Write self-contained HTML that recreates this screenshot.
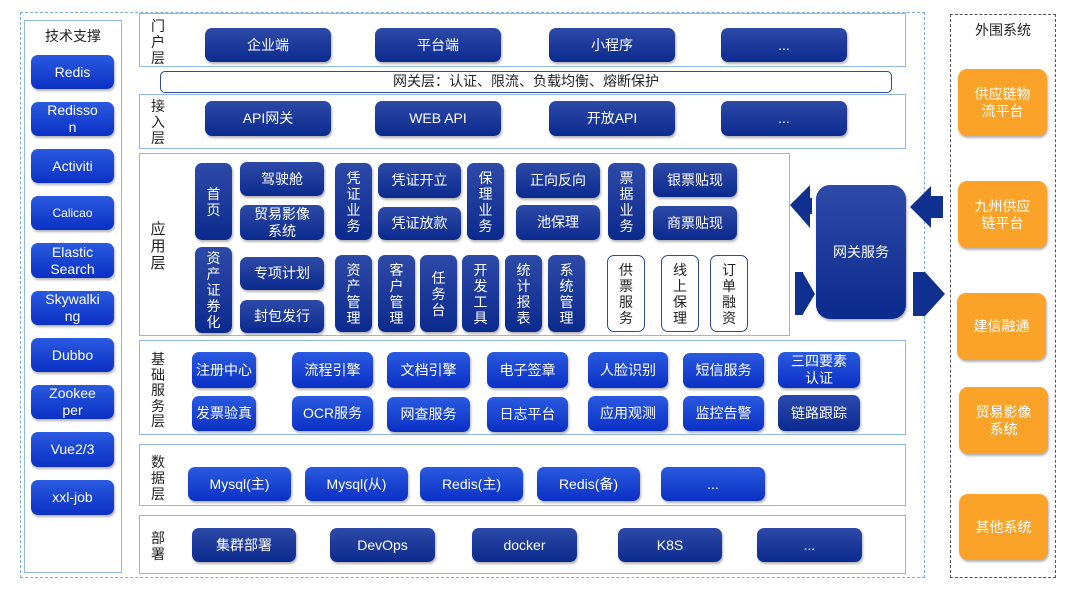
<!DOCTYPE html>
<html><head><meta charset="utf-8"><style>
*{margin:0;padding:0;box-sizing:border-box}
body{width:1080px;height:602px;background:#fff;position:relative;overflow:hidden;font-family:"Liberation Sans","Noto Sans CJK SC",sans-serif}
.a{position:absolute}
.b{position:absolute;display:flex;align-items:center;justify-content:center;text-align:center;color:#fff;font-size:14px;line-height:17px;border-radius:7px;background:linear-gradient(#2e4aa8,#0b2a8e);box-shadow:1px 2px 2px rgba(0,0,0,.3)}
.t{background:linear-gradient(#2a5ae0,#0a30c4);font-size:14px}
.v{font-size:14px;line-height:16px;padding:0 10px}
.w{background:#fff;color:#222;border:1.5px solid #2b4aa0;box-shadow:none}
.o{background:#fba229;font-size:14px;border-radius:9px}
.L{position:absolute;border:1.5px solid #8fb8e6;background:#fff}
.lab{position:absolute;font-size:14px;line-height:16px;color:#222;width:16px;text-align:center}
</style></head><body>
<div class="a" style="left:20px;top:12px;width:905px;height:566px;border:1.5px dashed #7aaee3"></div>
<div class="a" style="left:950px;top:14px;width:106px;height:564px;border:1.5px dashed #555"></div>
<div class="L" style="left:24px;top:20px;width:98px;height:553px"></div>
<div class="a" style="left:24px;top:26px;width:98px;text-align:center;font-size:14px;color:#222">技术支撑</div>
<div class="b t" style="left:31px;top:55px;width:83px;height:34px">Redis</div>
<div class="b t" style="left:31px;top:102px;width:83px;height:34px">Redisso<br>n</div>
<div class="b t" style="left:31px;top:149px;width:83px;height:34px">Activiti</div>
<div class="b t" style="left:31px;top:196px;width:83px;height:34px;font-size:12px">Calicao</div>
<div class="b t" style="left:31px;top:243px;width:83px;height:35px">Elastic<br>Search</div>
<div class="b t" style="left:31px;top:291px;width:83px;height:34px">Skywalki<br>ng</div>
<div class="b t" style="left:31px;top:338px;width:83px;height:34px">Dubbo</div>
<div class="b t" style="left:31px;top:385px;width:83px;height:34px">Zookee<br>per</div>
<div class="b t" style="left:31px;top:432px;width:83px;height:35px">Vue2/3</div>
<div class="b t" style="left:31px;top:480px;width:83px;height:35px">xxl-job</div>

<div class="L" style="left:139px;top:13px;width:767px;height:54px"></div>
<div class="lab" style="left:150px;top:18px">门户层</div>
<div class="b" style="left:205px;top:28px;width:126px;height:34px">企业端</div>
<div class="b" style="left:375px;top:28px;width:126px;height:34px">平台端</div>
<div class="b" style="left:549px;top:28px;width:126px;height:34px">小程序</div>
<div class="b" style="left:721px;top:28px;width:126px;height:34px">...</div>
<div class="a" style="left:160px;top:71px;width:732px;height:22px;border:1.5px solid #2b4aa0;border-radius:5px;text-align:center;font-size:14px;line-height:19px;color:#222">网关层：认证、限流、负载均衡、熔断保护</div>
<div class="L" style="left:139px;top:94px;width:767px;height:55px"></div>
<div class="lab" style="left:150px;top:98px">接入层</div>
<div class="b" style="left:205px;top:101px;width:126px;height:35px">API网关</div>
<div class="b" style="left:375px;top:101px;width:126px;height:35px">WEB API</div>
<div class="b" style="left:549px;top:101px;width:126px;height:35px">开放API</div>
<div class="b" style="left:721px;top:101px;width:126px;height:35px">...</div>

<div class="L" style="left:139px;top:153px;width:651px;height:183px"></div>
<div class="lab" style="left:150px;top:221px;font-size:15px;line-height:17px">应用层</div>
<div class="b v" style="left:195px;top:163px;width:37px;height:77px">首<br>页</div>
<div class="b" style="left:240px;top:162px;width:84px;height:34px">驾驶舱</div>
<div class="b" style="left:240px;top:205px;width:84px;height:35px">贸易影像<br>系统</div>
<div class="b v" style="left:335px;top:163px;width:37px;height:77px">凭<br>证<br>业<br>务</div>
<div class="b" style="left:378px;top:163px;width:83px;height:35px">凭证开立</div>
<div class="b" style="left:378px;top:207px;width:83px;height:33px">凭证放款</div>
<div class="b v" style="left:467px;top:163px;width:37px;height:77px">保<br>理<br>业<br>务</div>
<div class="b" style="left:516px;top:163px;width:84px;height:35px">正向反向</div>
<div class="b" style="left:516px;top:205px;width:84px;height:35px">池保理</div>
<div class="b v" style="left:608px;top:163px;width:37px;height:77px">票<br>据<br>业<br>务</div>
<div class="b" style="left:653px;top:163px;width:84px;height:34px">银票贴现</div>
<div class="b" style="left:653px;top:206px;width:84px;height:34px">商票贴现</div>
<div class="b v" style="left:195px;top:247px;width:37px;height:86px">资<br>产<br>证<br>券<br>化</div>
<div class="b" style="left:240px;top:257px;width:84px;height:33px">专项计划</div>
<div class="b" style="left:240px;top:300px;width:84px;height:33px">封包发行</div>
<div class="b v" style="left:335px;top:255px;width:37px;height:77px">资<br>产<br>管<br>理</div>
<div class="b v" style="left:378px;top:255px;width:37px;height:77px">客<br>户<br>管<br>理</div>
<div class="b v" style="left:420px;top:255px;width:37px;height:77px">任<br>务<br>台</div>
<div class="b v" style="left:462px;top:255px;width:37px;height:77px">开<br>发<br>工<br>具</div>
<div class="b v" style="left:505px;top:255px;width:37px;height:77px">统<br>计<br>报<br>表</div>
<div class="b v" style="left:548px;top:255px;width:37px;height:77px">系<br>统<br>管<br>理</div>
<div class="b v w" style="left:607px;top:255px;width:38px;height:77px">供<br>票<br>服<br>务</div>
<div class="b v w" style="left:661px;top:255px;width:38px;height:77px">线<br>上<br>保<br>理</div>
<div class="b v w" style="left:710px;top:255px;width:38px;height:77px">订<br>单<br>融<br>资</div>

<div class="b" style="left:816px;top:185px;width:90px;height:134px;border-radius:14px">网关服务</div>
<svg class="a" style="left:785px;top:180px" width:="170" width="170" height="145">
<g fill="#10308f">
<polygon points="5,25 25,5 25,18 27,18 27,34 25,34 25,48"/>
<polygon points="10,92 18,92 18,93 30,114 18,134 18,135 10,135"/>
<polygon points="125,27 146,6 146,16 158,16 158,38 146,38 146,48"/>
<polygon points="128,92 140,92 140,92 160,114 140,136 140,136 128,136"/>
</g></svg>

<div class="L" style="left:139px;top:340px;width:767px;height:95px"></div>
<div class="lab" style="left:150px;top:352px;line-height:15.5px">基础服务层</div>
<div class="b t" style="left:192px;top:352px;width:64px;height:36px">注册中心</div>
<div class="b t" style="left:292px;top:352px;width:81px;height:36px">流程引擎</div>
<div class="b t" style="left:387px;top:352px;width:83px;height:36px">文档引擎</div>
<div class="b t" style="left:487px;top:352px;width:81px;height:36px">电子签章</div>
<div class="b t" style="left:588px;top:352px;width:80px;height:36px">人脸识别</div>
<div class="b t" style="left:683px;top:353px;width:81px;height:35px">短信服务</div>
<div class="b t" style="left:778px;top:352px;width:82px;height:36px">三四要素<br>认证</div>
<div class="b t" style="left:192px;top:396px;width:64px;height:35px">发票验真</div>
<div class="b t" style="left:292px;top:396px;width:81px;height:35px">OCR服务</div>
<div class="b t" style="left:387px;top:397px;width:83px;height:35px">网查服务</div>
<div class="b t" style="left:487px;top:397px;width:81px;height:35px">日志平台</div>
<div class="b t" style="left:588px;top:396px;width:80px;height:35px">应用观测</div>
<div class="b t" style="left:683px;top:396px;width:81px;height:35px">监控告警</div>
<div class="b t" style="left:778px;top:395px;width:82px;height:36px;background:linear-gradient(#2a4ab0,#0b2a90)">链路跟踪</div>

<div class="L" style="left:139px;top:444px;width:767px;height:62px"></div>
<div class="lab" style="left:150px;top:454px">数据层</div>
<div class="b t" style="left:188px;top:467px;width:103px;height:34px">Mysql(主)</div>
<div class="b t" style="left:305px;top:467px;width:103px;height:34px">Mysql(从)</div>
<div class="b t" style="left:420px;top:467px;width:103px;height:34px">Redis(主)</div>
<div class="b t" style="left:537px;top:467px;width:103px;height:34px">Redis(备)</div>
<div class="b t" style="left:661px;top:467px;width:104px;height:34px">...</div>

<div class="L" style="left:139px;top:515px;width:767px;height:59px"></div>
<div class="lab" style="left:150px;top:530px">部署</div>
<div class="b" style="left:192px;top:528px;width:104px;height:34px">集群部署</div>
<div class="b" style="left:330px;top:528px;width:105px;height:34px">DevOps</div>
<div class="b" style="left:472px;top:528px;width:105px;height:34px">docker</div>
<div class="b" style="left:618px;top:528px;width:104px;height:34px">K8S</div>
<div class="b" style="left:757px;top:528px;width:105px;height:34px">...</div>

<div class="a" style="left:950px;top:20px;width:106px;text-align:center;font-size:14px;color:#222">外围系统</div>
<div class="b o" style="left:958px;top:69px;width:89px;height:67px">供应链物<br>流平台</div>
<div class="b o" style="left:958px;top:181px;width:89px;height:67px">九州供应<br>链平台</div>
<div class="b o" style="left:957px;top:293px;width:89px;height:67px">建信融通</div>
<div class="b o" style="left:959px;top:387px;width:89px;height:67px">贸易影像<br>系统</div>
<div class="b o" style="left:959px;top:494px;width:89px;height:66px">其他系统</div>
</body></html>
